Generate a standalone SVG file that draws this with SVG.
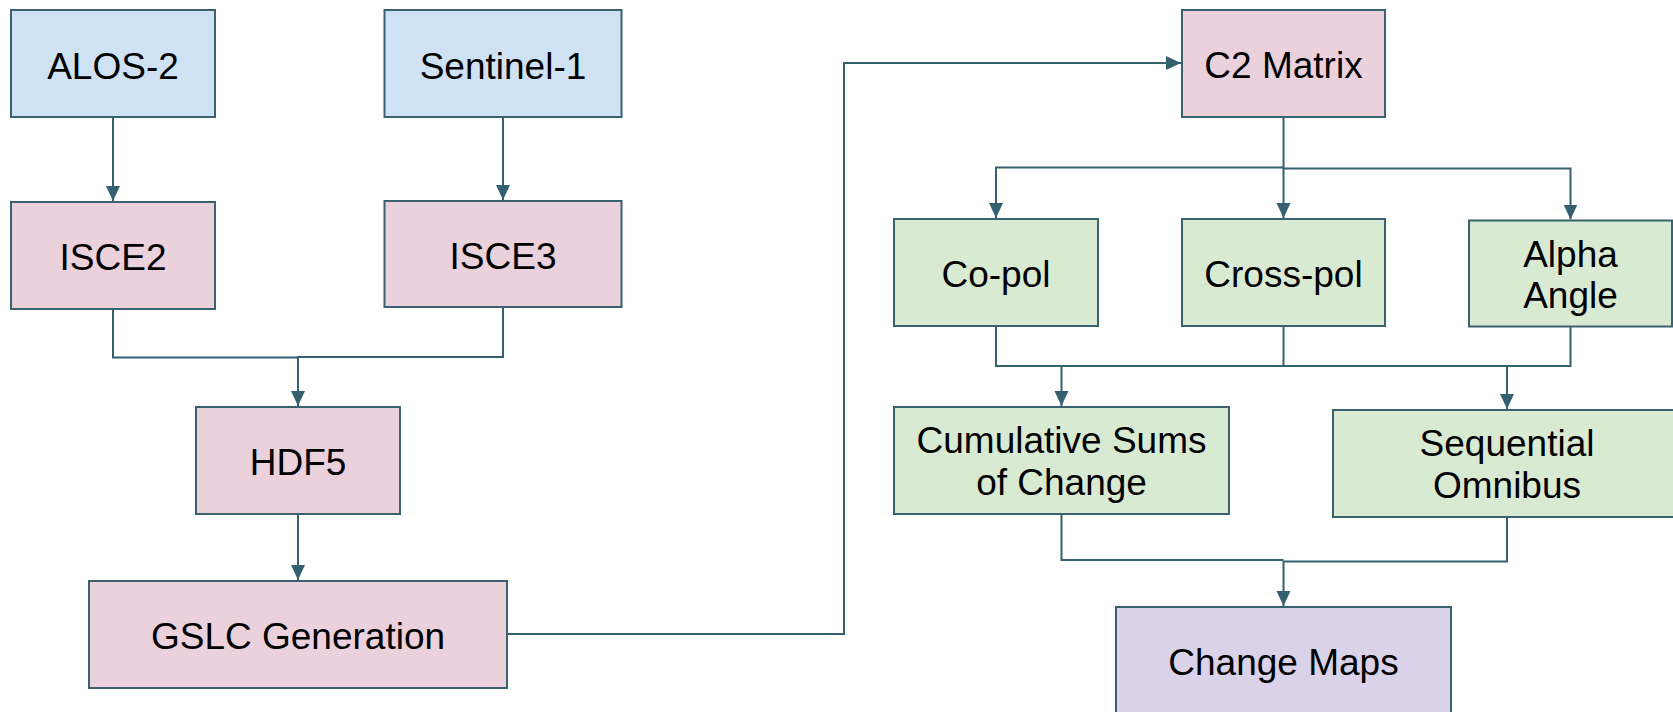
<svg xmlns="http://www.w3.org/2000/svg" width="1673" height="712" viewBox="0 0 1673 712">
<defs>
<style>
.box{stroke:#3a6170;stroke-width:2}
.blue{fill:#cfe2f3}
.pink{fill:#ead1dc}
.green{fill:#d9ead3}
.purple{fill:#d9d2e9}
.t{font-family:"Liberation Sans",Arial,sans-serif;font-size:37px;fill:#000;text-anchor:middle}
.c{fill:none;stroke:#35606f;stroke-width:2}
</style>
<marker id="ah" markerUnits="userSpaceOnUse" markerWidth="16" markerHeight="16" viewBox="0 0 16 14" refX="15" refY="7" orient="auto">
<path d="M0,0 L15,7 L0,14 Z" fill="#35606f"/>
</marker>
</defs>
<rect width="1673" height="712" fill="#fff"/>
<g id="connectors">
<polyline class="c" points="113,117 113,201" marker-end="url(#ah)"/>
<polyline class="c" points="503,117 503,200" marker-end="url(#ah)"/>
<polyline class="c" points="113,309 113,357.5 298,357.5"/>
<polyline class="c" points="503,307 503,357 298,357 298,406" marker-end="url(#ah)"/>
<polyline class="c" points="298,514 298,580" marker-end="url(#ah)"/>
<polyline class="c" points="507,634 844,634 844,63 1181,63" marker-end="url(#ah)"/>
<polyline class="c" points="1283.5,117 1283.5,218" marker-end="url(#ah)"/>
<polyline class="c" points="1283.5,167.5 996,167.5 996,218" marker-end="url(#ah)"/>
<polyline class="c" points="1283.5,168.5 1570.5,168.5 1570.5,219.5" marker-end="url(#ah)"/>
<polyline class="c" points="996,326 996,366 1570.5,366 1570.5,327"/>
<polyline class="c" points="1283.5,326 1283.5,366"/>
<polyline class="c" points="1061.5,366 1061.5,406" marker-end="url(#ah)"/>
<polyline class="c" points="1507,366.5 1507,409" marker-end="url(#ah)"/>
<polyline class="c" points="1061.5,514 1061.5,560 1283.5,560"/>
<polyline class="c" points="1507,517 1507,561.5 1283.5,561.5 1283.5,606" marker-end="url(#ah)"/>
</g>
<g id="alos2"><rect class="box blue" x="11" y="10" width="204" height="107"/><text class="t" x="113" y="79">ALOS-2</text></g>
<g id="sentinel1"><rect class="box blue" x="384.5" y="10" width="237" height="107"/><text class="t" x="503" y="79">Sentinel-1</text></g>
<g id="isce2"><rect class="box pink" x="11" y="202" width="204" height="107"/><text class="t" x="113" y="270">ISCE2</text></g>
<g id="isce3"><rect class="box pink" x="384.5" y="201" width="237" height="106"/><text class="t" x="503" y="269">ISCE3</text></g>
<g id="hdf5"><rect class="box pink" x="196" y="407" width="204" height="107"/><text class="t" x="298" y="475">HDF5</text></g>
<g id="gslc"><rect class="box pink" x="89" y="581" width="418" height="107"/><text class="t" x="298" y="649">GSLC Generation</text></g>
<g id="c2matrix"><rect class="box pink" x="1182" y="10" width="203" height="107"/><text class="t" x="1283.5" y="78">C2 Matrix</text></g>
<g id="copol"><rect class="box green" x="894" y="219" width="204" height="107"/><text class="t" x="996" y="287">Co-pol</text></g>
<g id="crosspol"><rect class="box green" x="1182" y="219" width="203" height="107"/><text class="t" x="1283.5" y="287">Cross-pol</text></g>
<g id="alpha"><rect class="box green" x="1469" y="220.5" width="203" height="106"/><text class="t" x="1570.5" y="266.5">Alpha</text><text class="t" x="1570.5" y="308">Angle</text></g>
<g id="cusum"><rect class="box green" x="894" y="407" width="335" height="107"/><text class="t" x="1061.5" y="452.5">Cumulative Sums</text><text class="t" x="1061.5" y="495">of Change</text></g>
<g id="omnibus"><rect class="box green" x="1333" y="410" width="348" height="107"/><text class="t" x="1507" y="456">Sequential</text><text class="t" x="1507" y="497.5">Omnibus</text></g>
<g id="changemaps"><rect class="box purple" x="1116" y="607" width="335" height="108"/><text class="t" x="1283.5" y="675">Change Maps</text></g>
</svg>
